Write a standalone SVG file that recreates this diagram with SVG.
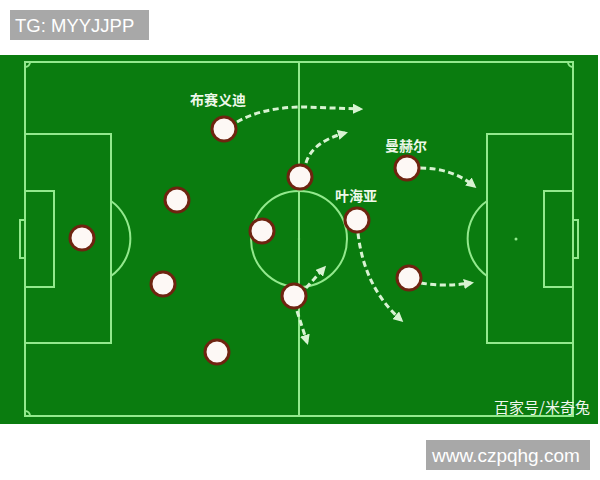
<svg xmlns="http://www.w3.org/2000/svg" width="600" height="480" viewBox="0 0 600 480">
<defs>
<style>
.line{fill:none;stroke:#93e98d;stroke-width:2}
.player{fill:#fdf8f5;stroke:#6e2410;stroke-width:3}
.run{fill:none;stroke:#d8f3d2;stroke-width:3;stroke-dasharray:6 3.5;marker-end:url(#ah)}
.name{font-family:"Noto Sans CJK SC","Noto Sans",sans-serif;font-size:14px;font-weight:bold;fill:#eef8ea;text-anchor:middle}
.wm{font-family:"Liberation Sans",Arial,sans-serif;fill:#ffffff}
</style>
<marker id="ah" viewBox="0 0 10 10" refX="7" refY="5" markerWidth="3.4" markerHeight="3.4" orient="auto" markerUnits="strokeWidth">
<path d="M0,0 L10,5 L0,10 z" fill="#d8f3d2"/>
</marker>
</defs>
<rect width="600" height="480" fill="#ffffff"/>
<g id="pitch">
<rect x="0" y="55" width="598" height="369" fill="#0a7c0f"/>
<rect class="line" x="25" y="62" width="548" height="354"/>
<line class="line" x1="299" y1="62" x2="299" y2="416"/>
<circle class="line" cx="299" cy="239" r="48"/>
<circle cx="299" cy="239" r="1.2" fill="#93e98d"/>
<rect class="line" x="25" y="134" width="86" height="209"/>
<rect class="line" x="25" y="191" width="29" height="96"/>
<rect class="line" x="20" y="220" width="5" height="38"/>
<path class="line" d="M111,201 A46,46 0 0 1 111,276"/>
<rect class="line" x="487" y="134" width="86" height="209"/>
<rect class="line" x="544" y="191" width="29" height="96"/>
<rect class="line" x="573" y="220" width="5" height="38"/>
<path class="line" d="M487,201 A46,46 0 0 0 487,276"/>
<circle cx="516" cy="239" r="1.5" fill="#93e98d"/>
<path class="line" d="M25,67 A5,5 0 0 0 30,62"/>
<path class="line" d="M568,62 A5,5 0 0 0 573,67"/>
<path class="line" d="M25,411 A5,5 0 0 1 30,416"/>
</g>
<g id="connectors">
<path class="run" d="M237,122 C258,110 282,107 305,107 L360,109"/>
<path class="run" d="M306,163 Q312,142 345,133"/>
<path class="run" d="M420,168 Q452,168 474,186"/>
<path class="run" d="M421,283 Q444,287 471,283"/>
<path class="run" d="M358,233 Q364,287 401,320"/>
<path class="run" d="M306,288 L324,268"/>
<path class="run" d="M297,311 L307,342"/>
</g>
<g id="p-busaidi"><circle class="player" cx="224" cy="129" r="12"/><text class="name" x="218" y="105">布赛义迪</text></g>
<g id="p2"><circle class="player" cx="300" cy="177" r="12"/></g>
<g id="p3"><circle class="player" cx="262" cy="231" r="12"/></g>
<g id="p-yehaiya"><circle class="player" cx="357" cy="220" r="12"/><text class="name" x="356" y="201">叶海亚</text></g>
<g id="p5"><circle class="player" cx="294" cy="296" r="12"/></g>
<g id="p-manhe"><circle class="player" cx="407" cy="168" r="12"/><text class="name" x="406" y="151">曼赫尔</text></g>
<g id="p7"><circle class="player" cx="409" cy="278" r="12"/></g>
<g id="p8"><circle class="player" cx="82" cy="238" r="12"/></g>
<g id="p9"><circle class="player" cx="177" cy="200" r="12"/></g>
<g id="p10"><circle class="player" cx="163" cy="284" r="12"/></g>
<g id="p11"><circle class="player" cx="217" cy="352" r="12"/></g>
<g id="watermarks">
<rect x="10" y="10" width="139" height="30" fill="#a8a8a8"/>
<text class="wm" x="15" y="32" font-size="18.5">TG: MYYJJPP</text>
<rect x="426" y="440" width="164" height="30" fill="#a8a8a8"/>
<text class="wm" x="432" y="462" font-size="19">www.czpqhg.com</text>
<text x="542" y="413" font-family="'Noto Sans CJK SC',sans-serif" font-size="15" fill="#f2f7ee" text-anchor="middle">百家号/米奇兔</text>
</g>
</svg>
